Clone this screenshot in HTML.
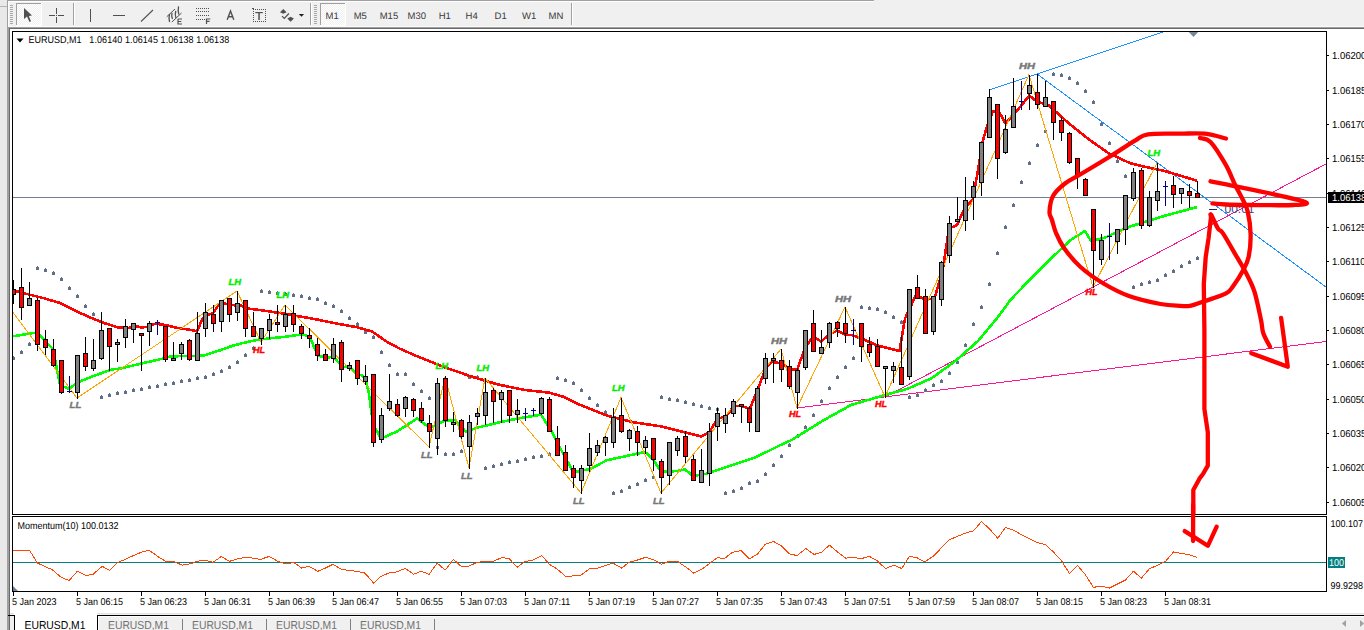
<!DOCTYPE html>
<html><head><meta charset="utf-8"><style>
html,body{margin:0;padding:0;background:#f0f0f0;overflow:hidden;}
svg{display:block;}
</style></head><body>
<svg width="1364" height="630" viewBox="0 0 1364 630" shape-rendering="auto" text-rendering="geometricPrecision">
<rect x="0" y="0" width="1364" height="630" fill="#f0f0f0"/>
<rect x="0" y="0" width="7" height="630" fill="#e9e9e9"/>
<rect x="0" y="6" width="7" height="1" fill="#b4b4b4"/>
<rect x="7" y="0" width="1" height="630" fill="#a0a0a0"/>
<rect x="8" y="0" width="866" height="1" fill="#a0a0a0"/>
<rect x="8" y="1" width="866" height="1" fill="#ffffff"/>
<rect x="8" y="1" width="1" height="26" fill="#ffffff"/>
<rect x="8" y="26" width="1356" height="1" fill="#fafafa"/>
<rect x="8" y="27" width="1356" height="1" fill="#a0a0a0"/>
<rect x="8" y="28" width="1356" height="1" fill="#696969"/>
<rect x="8" y="27" width="1" height="603" fill="#a0a0a0"/>
<rect x="9" y="28" width="1" height="602" fill="#696969"/>
<rect x="10" y="29" width="1354" height="584" fill="#ffffff"/>
<defs><pattern id="chk" x="0" y="0" width="2" height="2" patternUnits="userSpaceOnUse"><rect width="2" height="2" fill="#f0f0f0"/><rect width="1" height="1" fill="#ffffff"/><rect x="1" y="1" width="1" height="1" fill="#ffffff"/></pattern></defs>
<rect x="10" y="5" width="3" height="1" fill="#a8a8a8"/>
<rect x="10" y="7" width="3" height="1" fill="#a8a8a8"/>
<rect x="10" y="9" width="3" height="1" fill="#a8a8a8"/>
<rect x="10" y="11" width="3" height="1" fill="#a8a8a8"/>
<rect x="10" y="13" width="3" height="1" fill="#a8a8a8"/>
<rect x="10" y="15" width="3" height="1" fill="#a8a8a8"/>
<rect x="10" y="17" width="3" height="1" fill="#a8a8a8"/>
<rect x="10" y="19" width="3" height="1" fill="#a8a8a8"/>
<rect x="10" y="21" width="3" height="1" fill="#a8a8a8"/>
<rect x="10" y="23" width="3" height="1" fill="#a8a8a8"/>
<rect x="314" y="5" width="3" height="1" fill="#a8a8a8"/>
<rect x="314" y="7" width="3" height="1" fill="#a8a8a8"/>
<rect x="314" y="9" width="3" height="1" fill="#a8a8a8"/>
<rect x="314" y="11" width="3" height="1" fill="#a8a8a8"/>
<rect x="314" y="13" width="3" height="1" fill="#a8a8a8"/>
<rect x="314" y="15" width="3" height="1" fill="#a8a8a8"/>
<rect x="314" y="17" width="3" height="1" fill="#a8a8a8"/>
<rect x="314" y="19" width="3" height="1" fill="#a8a8a8"/>
<rect x="314" y="21" width="3" height="1" fill="#a8a8a8"/>
<rect x="314" y="23" width="3" height="1" fill="#a8a8a8"/>
<rect x="73" y="3" width="1" height="22" fill="#a0a0a0"/>
<rect x="74" y="3" width="1" height="22" fill="#ffffff"/>
<rect x="310" y="3" width="1" height="22" fill="#a0a0a0"/>
<rect x="311" y="3" width="1" height="22" fill="#ffffff"/>
<rect x="571" y="3" width="1" height="22" fill="#a0a0a0"/>
<rect x="572" y="3" width="1" height="22" fill="#ffffff"/>
<rect x="16" y="3" width="26" height="22" fill="url(#chk)" shape-rendering="crispEdges"/>
<rect x="16" y="3" width="26" height="1" fill="#a0a0a0"/>
<rect x="16" y="3" width="1" height="22" fill="#a0a0a0"/>
<rect x="16" y="25" width="26" height="1" fill="#ffffff"/>
<rect x="41" y="3" width="1" height="22" fill="#ffffff"/>
<rect x="320" y="3" width="26" height="22" fill="url(#chk)" shape-rendering="crispEdges"/>
<rect x="320" y="3" width="26" height="1" fill="#a0a0a0"/>
<rect x="320" y="3" width="1" height="22" fill="#a0a0a0"/>
<rect x="320" y="25" width="26" height="1" fill="#ffffff"/>
<rect x="345" y="3" width="1" height="22" fill="#ffffff"/>
<path d="M24,8 L24,19 L27,16.5 L29.5,22 L31,21.3 L28.8,16 L32,15.5 Z" fill="#505050"/>
<rect x="49" y="15" width="6" height="1" fill="#505050"/><rect x="58" y="15" width="6" height="1" fill="#505050"/>
<rect x="56" y="8" width="1" height="6" fill="#505050"/><rect x="56" y="17" width="1" height="6" fill="#505050"/>
<rect x="56" y="15" width="1" height="1" fill="#505050"/>
<rect x="90" y="9" width="1" height="13" fill="#505050"/>
<rect x="113" y="15" width="12" height="1" fill="#505050"/>
<line x1="141" y1="21.5" x2="153" y2="10" stroke="#505050" stroke-width="1.05"/>
<g stroke="#505050" stroke-width="1" fill="none" stroke-linecap="round"><line x1="167" y1="16.5" x2="174.7" y2="9.3"/><line x1="172.1" y1="21.8" x2="181.2" y2="13.3"/><path d="M169.5,14.5 Q168.5,18 169.5,21.5" stroke-width="1.3"/><path d="M172,13.3 Q171.3,16 172.3,18.5" stroke-width="1.3"/><path d="M175.7,11.3 Q174.8,14.5 175.9,17.7" stroke-width="1.3"/><path d="M178.5,6.8 Q177.8,10.5 178.8,14.1" stroke-width="1.3"/></g>
<path d="M178,19 h4 M178,19 v5 h4 M178,21.5 h3.3" stroke="#505050" stroke-width="1.2" fill="none"/>
<rect x="196" y="8.0" width="1" height="1" fill="#505050"/>
<rect x="198" y="8.0" width="1" height="1" fill="#505050"/>
<rect x="200" y="8.0" width="1" height="1" fill="#505050"/>
<rect x="202" y="8.0" width="1" height="1" fill="#505050"/>
<rect x="204" y="8.0" width="1" height="1" fill="#505050"/>
<rect x="206" y="8.0" width="1" height="1" fill="#505050"/>
<rect x="208" y="8.0" width="1" height="1" fill="#505050"/>
<rect x="196" y="11.0" width="1" height="1" fill="#505050"/>
<rect x="198" y="11.0" width="1" height="1" fill="#505050"/>
<rect x="200" y="11.0" width="1" height="1" fill="#505050"/>
<rect x="202" y="11.0" width="1" height="1" fill="#505050"/>
<rect x="204" y="11.0" width="1" height="1" fill="#505050"/>
<rect x="206" y="11.0" width="1" height="1" fill="#505050"/>
<rect x="208" y="11.0" width="1" height="1" fill="#505050"/>
<rect x="196" y="15.0" width="1" height="1" fill="#505050"/>
<rect x="198" y="15.0" width="1" height="1" fill="#505050"/>
<rect x="200" y="15.0" width="1" height="1" fill="#505050"/>
<rect x="202" y="15.0" width="1" height="1" fill="#505050"/>
<rect x="204" y="15.0" width="1" height="1" fill="#505050"/>
<rect x="206" y="15.0" width="1" height="1" fill="#505050"/>
<rect x="208" y="15.0" width="1" height="1" fill="#505050"/>
<rect x="196" y="19.0" width="1" height="1" fill="#505050"/>
<rect x="198" y="19.0" width="1" height="1" fill="#505050"/>
<rect x="200" y="19.0" width="1" height="1" fill="#505050"/>
<rect x="202" y="19.0" width="1" height="1" fill="#505050"/>
<rect x="204" y="19.0" width="1" height="1" fill="#505050"/>
<path d="M206.5,24 v-5 h3.8 M206.5,21.3 h3" stroke="#505050" stroke-width="1.2" fill="none"/>
<path d="M227.2,19.8 L230.5,11 L233.8,19.8 M228.4,16.8 L232.6,16.8" stroke="#505050" stroke-width="1.4" fill="none"/>
<rect x="253" y="9" width="1" height="1" fill="#505050"/>
<rect x="253" y="21" width="1" height="1" fill="#505050"/>
<rect x="255" y="9" width="1" height="1" fill="#505050"/>
<rect x="255" y="21" width="1" height="1" fill="#505050"/>
<rect x="257" y="9" width="1" height="1" fill="#505050"/>
<rect x="257" y="21" width="1" height="1" fill="#505050"/>
<rect x="259" y="9" width="1" height="1" fill="#505050"/>
<rect x="259" y="21" width="1" height="1" fill="#505050"/>
<rect x="261" y="9" width="1" height="1" fill="#505050"/>
<rect x="261" y="21" width="1" height="1" fill="#505050"/>
<rect x="263" y="9" width="1" height="1" fill="#505050"/>
<rect x="263" y="21" width="1" height="1" fill="#505050"/>
<rect x="265" y="9" width="1" height="1" fill="#505050"/>
<rect x="265" y="21" width="1" height="1" fill="#505050"/>
<rect x="253" y="11" width="1" height="1" fill="#505050"/>
<rect x="265" y="11" width="1" height="1" fill="#505050"/>
<rect x="253" y="13" width="1" height="1" fill="#505050"/>
<rect x="265" y="13" width="1" height="1" fill="#505050"/>
<rect x="253" y="15" width="1" height="1" fill="#505050"/>
<rect x="265" y="15" width="1" height="1" fill="#505050"/>
<rect x="253" y="17" width="1" height="1" fill="#505050"/>
<rect x="265" y="17" width="1" height="1" fill="#505050"/>
<rect x="253" y="19" width="1" height="1" fill="#505050"/>
<rect x="265" y="19" width="1" height="1" fill="#505050"/>
<rect x="252" y="8" width="2" height="1" fill="#505050"/>
<rect x="255.3" y="12" width="7.5" height="1.2" fill="#505050"/><rect x="258.3" y="12" width="1.5" height="8" fill="#505050"/>
<path d="M280,12.3 L283.3,8.9 L286.6,12.3 L283.3,13.8 Z" fill="#505050"/><path d="M287.3,18.5 L290.6,16.8 L293.9,18.5 L290.6,21.8 Z" fill="#505050"/>
<path d="M282,16.2 L284.3,18.5 L288.9,13.5" stroke="#505050" stroke-width="1.2" fill="none"/>
<path d="M298.8,13.9 L304.1,13.9 L301.5,16.8 Z" fill="#202020"/>
<text x="325.5" y="19" font-family='"Liberation Sans", sans-serif' font-size="9.5" fill="#3a3a3a">M1</text>
<text x="353.7" y="19" font-family='"Liberation Sans", sans-serif' font-size="9.5" fill="#3a3a3a">M5</text>
<text x="379.7" y="19" font-family='"Liberation Sans", sans-serif' font-size="9.5" fill="#3a3a3a">M15</text>
<text x="407.6" y="19" font-family='"Liberation Sans", sans-serif' font-size="9.5" fill="#3a3a3a">M30</text>
<text x="438.7" y="19" font-family='"Liberation Sans", sans-serif' font-size="9.5" fill="#3a3a3a">H1</text>
<text x="465.6" y="19" font-family='"Liberation Sans", sans-serif' font-size="9.5" fill="#3a3a3a">H4</text>
<text x="494.6" y="19" font-family='"Liberation Sans", sans-serif' font-size="9.5" fill="#3a3a3a">D1</text>
<text x="522.1" y="19" font-family='"Liberation Sans", sans-serif' font-size="9.5" fill="#3a3a3a">W1</text>
<text x="548.6" y="19" font-family='"Liberation Sans", sans-serif' font-size="9.5" fill="#3a3a3a">MN</text>
<rect x="12.5" y="31.5" width="1314" height="483" fill="#ffffff" stroke="#000" stroke-width="1"/>
<rect x="12.5" y="516.5" width="1314" height="75" fill="#ffffff" stroke="#000" stroke-width="1"/>
<rect x="1327" y="55" width="2" height="1" fill="#000"/>
<text transform="translate(1332,59) scale(1,1.06)" font-family='"Liberation Sans", sans-serif' font-size="9.5" fill="#000" >1.06200</text>
<rect x="1327" y="90" width="2" height="1" fill="#000"/>
<text transform="translate(1332,94) scale(1,1.06)" font-family='"Liberation Sans", sans-serif' font-size="9.5" fill="#000" >1.06185</text>
<rect x="1327" y="124" width="2" height="1" fill="#000"/>
<text transform="translate(1332,128) scale(1,1.06)" font-family='"Liberation Sans", sans-serif' font-size="9.5" fill="#000" >1.06170</text>
<rect x="1327" y="158" width="2" height="1" fill="#000"/>
<text transform="translate(1332,162) scale(1,1.06)" font-family='"Liberation Sans", sans-serif' font-size="9.5" fill="#000" >1.06155</text>
<rect x="1327" y="193" width="2" height="1" fill="#000"/>
<text transform="translate(1332,197) scale(1,1.06)" font-family='"Liberation Sans", sans-serif' font-size="9.5" fill="#000" >1.06140</text>
<rect x="1327" y="227" width="2" height="1" fill="#000"/>
<text transform="translate(1332,231) scale(1,1.06)" font-family='"Liberation Sans", sans-serif' font-size="9.5" fill="#000" >1.06125</text>
<rect x="1327" y="261" width="2" height="1" fill="#000"/>
<text transform="translate(1332,265) scale(1,1.06)" font-family='"Liberation Sans", sans-serif' font-size="9.5" fill="#000" >1.06110</text>
<rect x="1327" y="296" width="2" height="1" fill="#000"/>
<text transform="translate(1332,300) scale(1,1.06)" font-family='"Liberation Sans", sans-serif' font-size="9.5" fill="#000" >1.06095</text>
<rect x="1327" y="330" width="2" height="1" fill="#000"/>
<text transform="translate(1332,334) scale(1,1.06)" font-family='"Liberation Sans", sans-serif' font-size="9.5" fill="#000" >1.06080</text>
<rect x="1327" y="364" width="2" height="1" fill="#000"/>
<text transform="translate(1332,368) scale(1,1.06)" font-family='"Liberation Sans", sans-serif' font-size="9.5" fill="#000" >1.06065</text>
<rect x="1327" y="399" width="2" height="1" fill="#000"/>
<text transform="translate(1332,403) scale(1,1.06)" font-family='"Liberation Sans", sans-serif' font-size="9.5" fill="#000" >1.06050</text>
<rect x="1327" y="433" width="2" height="1" fill="#000"/>
<text transform="translate(1332,437) scale(1,1.06)" font-family='"Liberation Sans", sans-serif' font-size="9.5" fill="#000" >1.06035</text>
<rect x="1327" y="467" width="2" height="1" fill="#000"/>
<text transform="translate(1332,471) scale(1,1.06)" font-family='"Liberation Sans", sans-serif' font-size="9.5" fill="#000" >1.06020</text>
<rect x="1327" y="502" width="2" height="1" fill="#000"/>
<text transform="translate(1332,506) scale(1,1.06)" font-family='"Liberation Sans", sans-serif' font-size="9.5" fill="#000" >1.06005</text>
<text transform="translate(1330.5,527) scale(1,1.1)" font-family='"Liberation Sans", sans-serif' font-size="9" fill="#000" >100.107</text>
<text transform="translate(1330.5,589) scale(1,1.1)" font-family='"Liberation Sans", sans-serif' font-size="9" fill="#000" >99.9298</text>
<rect x="13" y="592" width="1" height="4" fill="#000"/>
<text transform="translate(12,605) scale(1,1.1)" font-family='"Liberation Sans", sans-serif' font-size="9" fill="#000" >5 Jan 2023</text>
<rect x="77" y="592" width="1" height="4" fill="#000"/>
<text transform="translate(76,605) scale(1,1.1)" font-family='"Liberation Sans", sans-serif' font-size="9" fill="#000" >5 Jan 06:15</text>
<rect x="141" y="592" width="1" height="4" fill="#000"/>
<text transform="translate(140,605) scale(1,1.1)" font-family='"Liberation Sans", sans-serif' font-size="9" fill="#000" >5 Jan 06:23</text>
<rect x="205" y="592" width="1" height="4" fill="#000"/>
<text transform="translate(204,605) scale(1,1.1)" font-family='"Liberation Sans", sans-serif' font-size="9" fill="#000" >5 Jan 06:31</text>
<rect x="269" y="592" width="1" height="4" fill="#000"/>
<text transform="translate(268,605) scale(1,1.1)" font-family='"Liberation Sans", sans-serif' font-size="9" fill="#000" >5 Jan 06:39</text>
<rect x="333" y="592" width="1" height="4" fill="#000"/>
<text transform="translate(332,605) scale(1,1.1)" font-family='"Liberation Sans", sans-serif' font-size="9" fill="#000" >5 Jan 06:47</text>
<rect x="397" y="592" width="1" height="4" fill="#000"/>
<text transform="translate(396,605) scale(1,1.1)" font-family='"Liberation Sans", sans-serif' font-size="9" fill="#000" >5 Jan 06:55</text>
<rect x="461" y="592" width="1" height="4" fill="#000"/>
<text transform="translate(460,605) scale(1,1.1)" font-family='"Liberation Sans", sans-serif' font-size="9" fill="#000" >5 Jan 07:03</text>
<rect x="525" y="592" width="1" height="4" fill="#000"/>
<text transform="translate(524,605) scale(1,1.1)" font-family='"Liberation Sans", sans-serif' font-size="9" fill="#000" >5 Jan 07:11</text>
<rect x="589" y="592" width="1" height="4" fill="#000"/>
<text transform="translate(588,605) scale(1,1.1)" font-family='"Liberation Sans", sans-serif' font-size="9" fill="#000" >5 Jan 07:19</text>
<rect x="653" y="592" width="1" height="4" fill="#000"/>
<text transform="translate(652,605) scale(1,1.1)" font-family='"Liberation Sans", sans-serif' font-size="9" fill="#000" >5 Jan 07:27</text>
<rect x="717" y="592" width="1" height="4" fill="#000"/>
<text transform="translate(716,605) scale(1,1.1)" font-family='"Liberation Sans", sans-serif' font-size="9" fill="#000" >5 Jan 07:35</text>
<rect x="781" y="592" width="1" height="4" fill="#000"/>
<text transform="translate(780,605) scale(1,1.1)" font-family='"Liberation Sans", sans-serif' font-size="9" fill="#000" >5 Jan 07:43</text>
<rect x="845" y="592" width="1" height="4" fill="#000"/>
<text transform="translate(844,605) scale(1,1.1)" font-family='"Liberation Sans", sans-serif' font-size="9" fill="#000" >5 Jan 07:51</text>
<rect x="909" y="592" width="1" height="4" fill="#000"/>
<text transform="translate(908,605) scale(1,1.1)" font-family='"Liberation Sans", sans-serif' font-size="9" fill="#000" >5 Jan 07:59</text>
<rect x="973" y="592" width="1" height="4" fill="#000"/>
<text transform="translate(972,605) scale(1,1.1)" font-family='"Liberation Sans", sans-serif' font-size="9" fill="#000" >5 Jan 08:07</text>
<rect x="1037" y="592" width="1" height="4" fill="#000"/>
<text transform="translate(1036,605) scale(1,1.1)" font-family='"Liberation Sans", sans-serif' font-size="9" fill="#000" >5 Jan 08:15</text>
<rect x="1101" y="592" width="1" height="4" fill="#000"/>
<text transform="translate(1100,605) scale(1,1.1)" font-family='"Liberation Sans", sans-serif' font-size="9" fill="#000" >5 Jan 08:23</text>
<rect x="1165" y="592" width="1" height="4" fill="#000"/>
<text transform="translate(1164,605) scale(1,1.1)" font-family='"Liberation Sans", sans-serif' font-size="9" fill="#000" >5 Jan 08:31</text>
<rect x="10" y="613" width="1354" height="1" fill="#e3e3e3"/>
<rect x="10" y="614" width="1354" height="16" fill="#f0f0f0"/>
<rect x="8" y="615" width="6" height="1" fill="#000"/>
<rect x="14" y="613" width="83" height="17" fill="#ffffff"/>
<rect x="14" y="615" width="1" height="15" fill="#000"/>
<rect x="97" y="615" width="1267" height="1" fill="#000"/>
<rect x="97" y="615" width="1" height="15" fill="#000"/>
<rect x="98" y="616" width="1266" height="1" fill="#ffffff"/>
<rect x="98" y="616" width="1" height="14" fill="#ffffff"/>
<rect x="182" y="619" width="1" height="11" fill="#808080"/>
<rect x="266" y="619" width="1" height="11" fill="#808080"/>
<rect x="350" y="619" width="1" height="11" fill="#808080"/>
<rect x="434" y="619" width="1" height="11" fill="#808080"/>
<text x="24.5" y="629" font-family='"Liberation Sans", sans-serif' font-size="11.5" fill="#000" textLength="61" lengthAdjust="spacingAndGlyphs">EURUSD,M1</text>
<text x="108" y="629" font-family='"Liberation Sans", sans-serif' font-size="11.5" fill="#707070" textLength="61" lengthAdjust="spacingAndGlyphs">EURUSD,M1</text>
<text x="192" y="629" font-family='"Liberation Sans", sans-serif' font-size="11.5" fill="#707070" textLength="61" lengthAdjust="spacingAndGlyphs">EURUSD,M1</text>
<text x="276" y="629" font-family='"Liberation Sans", sans-serif' font-size="11.5" fill="#707070" textLength="61" lengthAdjust="spacingAndGlyphs">EURUSD,M1</text>
<text x="360" y="629" font-family='"Liberation Sans", sans-serif' font-size="11.5" fill="#707070" textLength="61" lengthAdjust="spacingAndGlyphs">EURUSD,M1</text>
<path d="M1346,620 L1342,623.5 L1346,627 Z" fill="#a0a0a0"/>
<path d="M1360,620 L1364,623.5 L1360,627 Z" fill="#a0a0a0"/>
<defs><clipPath id="cm"><rect x="13" y="32" width="1313" height="482"/></clipPath><clipPath id="cs"><rect x="13" y="517" width="1313" height="74"/></clipPath></defs>
<g clip-path="url(#cm)">
<rect x="13" y="197" width="1313" height="1" fill="#708090"/>
<line x1="989" y1="90" x2="1037" y2="74" stroke="#1e90ff" stroke-width="1" shape-rendering="crispEdges"/>
<line x1="1037" y1="74" x2="1166" y2="31" stroke="#1e90ff" stroke-width="1" shape-rendering="crispEdges"/>
<line x1="1037" y1="74" x2="1326" y2="287" stroke="#1e90ff" stroke-width="1" shape-rendering="crispEdges"/>
<line x1="797" y1="408" x2="1326" y2="341.5" stroke="#ff1493" stroke-width="1" shape-rendering="crispEdges"/>
<line x1="885" y1="397" x2="1326" y2="164" stroke="#ff1493" stroke-width="1" shape-rendering="crispEdges"/>
<path d="M12,357h3v3h-3z M13,356h1v1h-1z" fill="#607088"/>
<path d="M20,351h3v3h-3z M21,350h1v1h-1z" fill="#607088"/>
<path d="M28,343h3v3h-3z M29,342h1v1h-1z" fill="#607088"/>
<path d="M36,267h3v3h-3z M37,266h1v1h-1z" fill="#607088"/>
<path d="M44,269h3v3h-3z M45,268h1v1h-1z" fill="#607088"/>
<path d="M52,272h3v3h-3z M53,271h1v1h-1z" fill="#607088"/>
<path d="M60,278h3v3h-3z M61,277h1v1h-1z" fill="#607088"/>
<path d="M68,287h3v3h-3z M69,286h1v1h-1z" fill="#607088"/>
<path d="M76,295h3v3h-3z M77,294h1v1h-1z" fill="#607088"/>
<path d="M84,305h3v3h-3z M85,304h1v1h-1z" fill="#607088"/>
<path d="M92,313h3v3h-3z M93,312h1v1h-1z" fill="#607088"/>
<path d="M100,396h3v3h-3z M101,395h1v1h-1z" fill="#607088"/>
<path d="M108,394h3v3h-3z M109,393h1v1h-1z" fill="#607088"/>
<path d="M116,392h3v3h-3z M117,391h1v1h-1z" fill="#607088"/>
<path d="M124,391h3v3h-3z M125,390h1v1h-1z" fill="#607088"/>
<path d="M132,389h3v3h-3z M133,388h1v1h-1z" fill="#607088"/>
<path d="M140,388h3v3h-3z M141,387h1v1h-1z" fill="#607088"/>
<path d="M148,386h3v3h-3z M149,385h1v1h-1z" fill="#607088"/>
<path d="M156,385h3v3h-3z M157,384h1v1h-1z" fill="#607088"/>
<path d="M164,383h3v3h-3z M165,382h1v1h-1z" fill="#607088"/>
<path d="M172,382h3v3h-3z M173,381h1v1h-1z" fill="#607088"/>
<path d="M180,380h3v3h-3z M181,379h1v1h-1z" fill="#607088"/>
<path d="M188,379h3v3h-3z M189,378h1v1h-1z" fill="#607088"/>
<path d="M196,377h3v3h-3z M197,376h1v1h-1z" fill="#607088"/>
<path d="M204,376h3v3h-3z M205,375h1v1h-1z" fill="#607088"/>
<path d="M212,373h3v3h-3z M213,372h1v1h-1z" fill="#607088"/>
<path d="M220,370h3v3h-3z M221,369h1v1h-1z" fill="#607088"/>
<path d="M228,366h3v3h-3z M229,365h1v1h-1z" fill="#607088"/>
<path d="M236,361h3v3h-3z M237,360h1v1h-1z" fill="#607088"/>
<path d="M244,354h3v3h-3z M245,353h1v1h-1z" fill="#607088"/>
<path d="M252,347h3v3h-3z M253,346h1v1h-1z" fill="#607088"/>
<path d="M260,290h3v3h-3z M261,289h1v1h-1z" fill="#607088"/>
<path d="M268,291h3v3h-3z M269,290h1v1h-1z" fill="#607088"/>
<path d="M276,292h3v3h-3z M277,291h1v1h-1z" fill="#607088"/>
<path d="M284,293h3v3h-3z M285,292h1v1h-1z" fill="#607088"/>
<path d="M292,294h3v3h-3z M293,293h1v1h-1z" fill="#607088"/>
<path d="M300,295h3v3h-3z M301,294h1v1h-1z" fill="#607088"/>
<path d="M308,297h3v3h-3z M309,296h1v1h-1z" fill="#607088"/>
<path d="M316,298h3v3h-3z M317,297h1v1h-1z" fill="#607088"/>
<path d="M324,302h3v3h-3z M325,301h1v1h-1z" fill="#607088"/>
<path d="M332,305h3v3h-3z M333,304h1v1h-1z" fill="#607088"/>
<path d="M340,310h3v3h-3z M341,309h1v1h-1z" fill="#607088"/>
<path d="M348,317h3v3h-3z M349,316h1v1h-1z" fill="#607088"/>
<path d="M356,323h3v3h-3z M357,322h1v1h-1z" fill="#607088"/>
<path d="M364,331h3v3h-3z M365,330h1v1h-1z" fill="#607088"/>
<path d="M372,336h3v3h-3z M373,335h1v1h-1z" fill="#607088"/>
<path d="M380,351h3v3h-3z M381,350h1v1h-1z" fill="#607088"/>
<path d="M388,364h3v3h-3z M389,363h1v1h-1z" fill="#607088"/>
<path d="M396,373h3v3h-3z M397,372h1v1h-1z" fill="#607088"/>
<path d="M404,373h3v3h-3z M405,372h1v1h-1z" fill="#607088"/>
<path d="M412,383h3v3h-3z M413,382h1v1h-1z" fill="#607088"/>
<path d="M420,390h3v3h-3z M421,389h1v1h-1z" fill="#607088"/>
<path d="M428,397h3v3h-3z M429,396h1v1h-1z" fill="#607088"/>
<path d="M436,446h3v3h-3z M437,445h1v1h-1z" fill="#607088"/>
<path d="M444,453h3v3h-3z M445,452h1v1h-1z" fill="#607088"/>
<path d="M452,453h3v3h-3z M453,452h1v1h-1z" fill="#607088"/>
<path d="M460,450h3v3h-3z M461,449h1v1h-1z" fill="#607088"/>
<path d="M468,376h3v3h-3z M469,375h1v1h-1z" fill="#607088"/>
<path d="M476,376h3v3h-3z M477,375h1v1h-1z" fill="#607088"/>
<path d="M484,467h3v3h-3z M485,466h1v1h-1z" fill="#607088"/>
<path d="M492,465h3v3h-3z M493,464h1v1h-1z" fill="#607088"/>
<path d="M500,463h3v3h-3z M501,462h1v1h-1z" fill="#607088"/>
<path d="M508,461h3v3h-3z M509,460h1v1h-1z" fill="#607088"/>
<path d="M516,460h3v3h-3z M517,459h1v1h-1z" fill="#607088"/>
<path d="M524,458h3v3h-3z M525,457h1v1h-1z" fill="#607088"/>
<path d="M532,456h3v3h-3z M533,455h1v1h-1z" fill="#607088"/>
<path d="M540,455h3v3h-3z M541,454h1v1h-1z" fill="#607088"/>
<path d="M548,453h3v3h-3z M549,452h1v1h-1z" fill="#607088"/>
<path d="M556,377h3v3h-3z M557,376h1v1h-1z" fill="#607088"/>
<path d="M564,379h3v3h-3z M565,378h1v1h-1z" fill="#607088"/>
<path d="M572,382h3v3h-3z M573,381h1v1h-1z" fill="#607088"/>
<path d="M580,389h3v3h-3z M581,388h1v1h-1z" fill="#607088"/>
<path d="M588,397h3v3h-3z M589,396h1v1h-1z" fill="#607088"/>
<path d="M596,404h3v3h-3z M597,403h1v1h-1z" fill="#607088"/>
<path d="M604,411h3v3h-3z M605,410h1v1h-1z" fill="#607088"/>
<path d="M612,492h3v3h-3z M613,491h1v1h-1z" fill="#607088"/>
<path d="M620,490h3v3h-3z M621,489h1v1h-1z" fill="#607088"/>
<path d="M628,486h3v3h-3z M629,485h1v1h-1z" fill="#607088"/>
<path d="M636,483h3v3h-3z M637,482h1v1h-1z" fill="#607088"/>
<path d="M644,479h3v3h-3z M645,478h1v1h-1z" fill="#607088"/>
<path d="M652,476h3v3h-3z M653,475h1v1h-1z" fill="#607088"/>
<path d="M660,396h3v3h-3z M661,395h1v1h-1z" fill="#607088"/>
<path d="M668,398h3v3h-3z M669,397h1v1h-1z" fill="#607088"/>
<path d="M676,399h3v3h-3z M677,398h1v1h-1z" fill="#607088"/>
<path d="M684,401h3v3h-3z M685,400h1v1h-1z" fill="#607088"/>
<path d="M692,403h3v3h-3z M693,402h1v1h-1z" fill="#607088"/>
<path d="M700,405h3v3h-3z M701,404h1v1h-1z" fill="#607088"/>
<path d="M708,407h3v3h-3z M709,406h1v1h-1z" fill="#607088"/>
<path d="M716,408h3v3h-3z M717,407h1v1h-1z" fill="#607088"/>
<path d="M724,492h3v3h-3z M725,491h1v1h-1z" fill="#607088"/>
<path d="M732,490h3v3h-3z M733,489h1v1h-1z" fill="#607088"/>
<path d="M740,487h3v3h-3z M741,486h1v1h-1z" fill="#607088"/>
<path d="M748,482h3v3h-3z M749,481h1v1h-1z" fill="#607088"/>
<path d="M756,480h3v3h-3z M757,479h1v1h-1z" fill="#607088"/>
<path d="M764,473h3v3h-3z M765,472h1v1h-1z" fill="#607088"/>
<path d="M772,464h3v3h-3z M773,463h1v1h-1z" fill="#607088"/>
<path d="M780,455h3v3h-3z M781,454h1v1h-1z" fill="#607088"/>
<path d="M788,444h3v3h-3z M789,443h1v1h-1z" fill="#607088"/>
<path d="M796,435h3v3h-3z M797,434h1v1h-1z" fill="#607088"/>
<path d="M804,426h3v3h-3z M805,425h1v1h-1z" fill="#607088"/>
<path d="M812,414h3v3h-3z M813,413h1v1h-1z" fill="#607088"/>
<path d="M820,400h3v3h-3z M821,399h1v1h-1z" fill="#607088"/>
<path d="M828,387h3v3h-3z M829,386h1v1h-1z" fill="#607088"/>
<path d="M836,376h3v3h-3z M837,375h1v1h-1z" fill="#607088"/>
<path d="M844,366h3v3h-3z M845,365h1v1h-1z" fill="#607088"/>
<path d="M852,357h3v3h-3z M853,356h1v1h-1z" fill="#607088"/>
<path d="M860,306h3v3h-3z M861,305h1v1h-1z" fill="#607088"/>
<path d="M868,307h3v3h-3z M869,306h1v1h-1z" fill="#607088"/>
<path d="M876,308h3v3h-3z M877,307h1v1h-1z" fill="#607088"/>
<path d="M884,311h3v3h-3z M885,310h1v1h-1z" fill="#607088"/>
<path d="M892,316h3v3h-3z M893,315h1v1h-1z" fill="#607088"/>
<path d="M900,321h3v3h-3z M901,320h1v1h-1z" fill="#607088"/>
<path d="M908,396h3v3h-3z M909,395h1v1h-1z" fill="#607088"/>
<path d="M916,394h3v3h-3z M917,393h1v1h-1z" fill="#607088"/>
<path d="M924,389h3v3h-3z M925,388h1v1h-1z" fill="#607088"/>
<path d="M932,384h3v3h-3z M933,383h1v1h-1z" fill="#607088"/>
<path d="M940,380h3v3h-3z M941,379h1v1h-1z" fill="#607088"/>
<path d="M948,372h3v3h-3z M949,371h1v1h-1z" fill="#607088"/>
<path d="M956,361h3v3h-3z M957,360h1v1h-1z" fill="#607088"/>
<path d="M964,344h3v3h-3z M965,343h1v1h-1z" fill="#607088"/>
<path d="M972,323h3v3h-3z M973,322h1v1h-1z" fill="#607088"/>
<path d="M980,306h3v3h-3z M981,305h1v1h-1z" fill="#607088"/>
<path d="M988,283h3v3h-3z M989,282h1v1h-1z" fill="#607088"/>
<path d="M996,252h3v3h-3z M997,251h1v1h-1z" fill="#607088"/>
<path d="M1004,226h3v3h-3z M1005,225h1v1h-1z" fill="#607088"/>
<path d="M1012,204h3v3h-3z M1013,203h1v1h-1z" fill="#607088"/>
<path d="M1020,181h3v3h-3z M1021,180h1v1h-1z" fill="#607088"/>
<path d="M1028,162h3v3h-3z M1029,161h1v1h-1z" fill="#607088"/>
<path d="M1036,144h3v3h-3z M1037,143h1v1h-1z" fill="#607088"/>
<path d="M1044,130h3v3h-3z M1045,129h1v1h-1z" fill="#607088"/>
<path d="M1052,73h3v3h-3z M1053,72h1v1h-1z" fill="#607088"/>
<path d="M1060,74h3v3h-3z M1061,73h1v1h-1z" fill="#607088"/>
<path d="M1068,77h3v3h-3z M1069,76h1v1h-1z" fill="#607088"/>
<path d="M1076,82h3v3h-3z M1077,81h1v1h-1z" fill="#607088"/>
<path d="M1084,90h3v3h-3z M1085,89h1v1h-1z" fill="#607088"/>
<path d="M1092,101h3v3h-3z M1093,100h1v1h-1z" fill="#607088"/>
<path d="M1100,123h3v3h-3z M1101,122h1v1h-1z" fill="#607088"/>
<path d="M1108,142h3v3h-3z M1109,141h1v1h-1z" fill="#607088"/>
<path d="M1116,160h3v3h-3z M1117,159h1v1h-1z" fill="#607088"/>
<path d="M1124,175h3v3h-3z M1125,174h1v1h-1z" fill="#607088"/>
<path d="M1132,286h3v3h-3z M1133,285h1v1h-1z" fill="#607088"/>
<path d="M1140,283h3v3h-3z M1141,282h1v1h-1z" fill="#607088"/>
<path d="M1148,281h3v3h-3z M1149,280h1v1h-1z" fill="#607088"/>
<path d="M1156,279h3v3h-3z M1157,278h1v1h-1z" fill="#607088"/>
<path d="M1164,274h3v3h-3z M1165,273h1v1h-1z" fill="#607088"/>
<path d="M1172,270h3v3h-3z M1173,269h1v1h-1z" fill="#607088"/>
<path d="M1180,265h3v3h-3z M1181,264h1v1h-1z" fill="#607088"/>
<path d="M1188,261h3v3h-3z M1189,260h1v1h-1z" fill="#607088"/>
<path d="M1196,257h3v3h-3z M1197,256h1v1h-1z" fill="#607088"/>
<polyline points="12.0,290.0 27.0,294.0 43.0,298.0 60.0,303.0 77.5,311.8 95.0,319.5 104.0,323.0 117.6,327.3 128.6,327.9 134.3,325.7 141.4,327.4 147.0,326.9 154.3,324.0 161.4,324.3 167.0,325.4 177.0,327.9 191.4,330.0 197.0,331.4 203.0,317.8 209.0,314.4 213.0,313.3 219.0,304.4 224.0,303.3 230.0,305.0 241.0,305.6 249.0,308.7 260.0,310.0 285.0,313.8 317.0,319.5 338.0,323.8 356.0,327.0 372.0,331.4 380.0,337.0 388.0,342.5 400.0,348.8 417.0,356.2 444.0,367.0 471.0,376.4 498.0,384.5 525.0,390.0 549.0,392.6 563.0,396.7 580.0,404.8 607.0,415.6 634.0,422.3 661.0,426.4 688.0,433.1 701.5,436.6 709.6,431.8 717.7,418.3 725.7,417.0 733.8,406.1 742.0,406.1 750.0,408.8 758.0,388.6 766.2,367.0 771.6,361.6 781.0,363.5 789.0,368.6 797.0,370.0 805.0,348.3 813.0,336.2 821.0,341.5 829.0,334.8 837.0,330.7 845.6,334.8 851.0,334.8 862.0,338.8 878.0,345.6 899.5,351.0 905.0,318.6 915.7,295.6 926.5,299.7 934.6,298.3 942.7,270.0 949.0,228.6 957.0,225.0 965.0,207.6 972.6,200.0 977.7,172.0 982.7,141.5 987.8,123.8 993.0,111.0 1000.0,113.6 1005.4,123.4 1021.3,105.6 1029.2,95.6 1037.1,101.6 1049.0,105.6 1068.9,123.4 1088.7,139.3 1108.6,153.2 1130.0,163.1 1140.0,165.7 1165.0,171.1 1197.0,180.7" fill="none" stroke="#ff0000" stroke-width="2.6" stroke-linejoin="round" shape-rendering="crispEdges"/>
<polyline points="12.0,336.4 29.0,333.7 37.0,332.5 53.0,349.0 60.0,385.0 69.0,389.0 77.5,382.5 95.0,375.5 112.0,369.4 120.0,368.6 141.0,363.6 163.0,358.6 170.0,356.4 200.0,355.7 205.0,355.2 221.0,350.0 233.0,345.6 245.0,342.5 260.0,339.4 285.0,336.8 301.0,334.5 305.0,335.0 310.0,337.8 314.0,346.7 318.0,355.6 323.0,356.8 329.0,357.5 333.0,356.2 338.0,362.0 344.0,367.0 349.5,366.3 356.0,374.0 362.0,375.2 366.0,380.3 369.0,394.0 373.0,424.0 381.0,438.6 397.0,431.5 417.0,418.5 430.0,428.0 444.0,421.0 455.0,420.0 466.0,432.0 476.0,428.0 498.0,422.6 517.0,418.7 541.0,414.6 552.0,431.8 563.0,453.4 573.5,472.2 590.0,469.0 607.0,460.2 645.0,452.0 653.0,459.0 661.0,472.0 677.0,471.0 685.0,469.5 693.0,476.0 707.0,473.6 731.0,465.5 755.5,457.4 780.0,445.3 791.6,440.0 824.0,420.0 851.0,405.0 883.4,395.5 907.6,388.8 932.0,378.0 956.2,360.4 978.0,341.0 997.0,318.3 1011.0,299.3 1035.0,274.3 1057.0,252.9 1071.0,239.8 1085.0,231.0 1091.0,241.0 1105.0,237.7 1118.0,231.4 1131.0,226.3 1143.0,222.5 1165.0,215.7 1197.0,207.1" fill="none" stroke="#00ff00" stroke-width="2.6" stroke-linejoin="round" shape-rendering="crispEdges"/>
<polyline points="12.0,311.0 77.0,398.0 237.0,291.0 261.0,342.0 285.0,305.0 368.0,387.0 429.0,447.0 445.0,377.0 469.0,468.0 485.0,378.0 581.0,493.0 621.0,397.5 661.0,493.0 781.0,349.0 797.0,408.0 845.0,307.0 885.0,397.0 1029.0,74.6 1093.0,287.0 1157.0,163.0" fill="none" stroke="#ffa500" stroke-width="1" shape-rendering="crispEdges"/>
<rect x="13" y="280" width="1" height="24" fill="#000"/>
<rect x="11.5" y="289.5" width="4" height="5" fill="#ff0000" stroke="#000" stroke-width="1"/>
<rect x="21" y="268" width="1" height="52" fill="#000"/>
<rect x="19.5" y="287.5" width="4" height="20" fill="#ff0000" stroke="#000" stroke-width="1"/>
<rect x="29" y="282" width="1" height="24" fill="#000"/>
<rect x="27.5" y="298.5" width="4" height="7" fill="#808080" stroke="#000" stroke-width="1"/>
<rect x="37" y="298" width="1" height="53" fill="#000"/>
<rect x="35.5" y="300.5" width="4" height="44" fill="#ff0000" stroke="#000" stroke-width="1"/>
<rect x="45" y="330" width="1" height="25" fill="#000"/>
<rect x="43.5" y="339.5" width="4" height="8" fill="#ff0000" stroke="#000" stroke-width="1"/>
<rect x="53" y="339" width="1" height="28" fill="#000"/>
<rect x="51.5" y="349.5" width="4" height="16" fill="#ff0000" stroke="#000" stroke-width="1"/>
<rect x="61" y="360" width="1" height="34" fill="#000"/>
<rect x="59.5" y="360.5" width="4" height="32" fill="#ff0000" stroke="#000" stroke-width="1"/>
<rect x="69" y="376" width="1" height="17" fill="#000080"/>
<rect x="67" y="391" width="5" height="1" fill="#000080"/>
<rect x="77" y="355" width="1" height="44" fill="#000"/>
<rect x="75.5" y="355.5" width="4" height="37" fill="#808080" stroke="#000" stroke-width="1"/>
<rect x="85" y="337" width="1" height="34" fill="#000"/>
<rect x="83.5" y="353.5" width="4" height="13" fill="#ff0000" stroke="#000" stroke-width="1"/>
<rect x="93" y="339" width="1" height="32" fill="#000"/>
<rect x="91.5" y="360.5" width="4" height="8" fill="#808080" stroke="#000" stroke-width="1"/>
<rect x="101" y="312" width="1" height="48" fill="#000"/>
<rect x="99.5" y="330.5" width="4" height="28" fill="#808080" stroke="#000" stroke-width="1"/>
<rect x="109" y="328" width="1" height="43" fill="#000"/>
<rect x="107.5" y="328.5" width="4" height="18" fill="#ff0000" stroke="#000" stroke-width="1"/>
<rect x="117" y="339" width="1" height="23" fill="#000"/>
<rect x="115.5" y="342.5" width="4" height="2" fill="#808080" stroke="#000" stroke-width="1"/>
<rect x="125" y="319" width="1" height="29" fill="#000"/>
<rect x="123.5" y="326.5" width="4" height="11" fill="#808080" stroke="#000" stroke-width="1"/>
<rect x="133" y="323" width="1" height="20" fill="#000"/>
<rect x="131.5" y="323.5" width="4" height="6" fill="#808080" stroke="#000" stroke-width="1"/>
<rect x="141" y="333" width="1" height="38" fill="#000"/>
<rect x="139.5" y="333.5" width="4" height="2" fill="#ff0000" stroke="#000" stroke-width="1"/>
<rect x="149" y="321" width="1" height="25" fill="#000"/>
<rect x="147.5" y="323.5" width="4" height="8" fill="#808080" stroke="#000" stroke-width="1"/>
<rect x="157" y="320" width="1" height="15" fill="#000080"/>
<rect x="155" y="322" width="5" height="1" fill="#000080"/>
<rect x="165" y="326" width="1" height="36" fill="#000"/>
<rect x="163.5" y="326.5" width="4" height="33" fill="#ff0000" stroke="#000" stroke-width="1"/>
<rect x="173" y="342" width="1" height="19" fill="#000"/>
<rect x="171.5" y="358.5" width="4" height="2" fill="#808080" stroke="#000" stroke-width="1"/>
<rect x="181" y="342" width="1" height="18" fill="#000"/>
<rect x="179.5" y="344.5" width="4" height="9" fill="#808080" stroke="#000" stroke-width="1"/>
<rect x="189" y="339" width="1" height="22" fill="#000"/>
<rect x="187.5" y="340.5" width="4" height="19" fill="#ff0000" stroke="#000" stroke-width="1"/>
<rect x="197" y="312" width="1" height="49" fill="#000"/>
<rect x="195.5" y="333.5" width="4" height="27" fill="#808080" stroke="#000" stroke-width="1"/>
<rect x="205" y="303" width="1" height="34" fill="#000"/>
<rect x="203.5" y="312.5" width="4" height="16" fill="#808080" stroke="#000" stroke-width="1"/>
<rect x="213" y="305" width="1" height="27" fill="#000"/>
<rect x="211.5" y="314.5" width="4" height="9" fill="#ff0000" stroke="#000" stroke-width="1"/>
<rect x="221" y="300" width="1" height="32" fill="#000"/>
<rect x="219.5" y="300.5" width="4" height="21" fill="#808080" stroke="#000" stroke-width="1"/>
<rect x="229" y="298" width="1" height="24" fill="#000"/>
<rect x="227.5" y="298.5" width="4" height="16" fill="#ff0000" stroke="#000" stroke-width="1"/>
<rect x="237" y="291" width="1" height="30" fill="#000"/>
<rect x="235.5" y="303.5" width="4" height="9" fill="#808080" stroke="#000" stroke-width="1"/>
<rect x="245" y="300" width="1" height="37" fill="#000"/>
<rect x="243.5" y="300.5" width="4" height="28" fill="#ff0000" stroke="#000" stroke-width="1"/>
<rect x="253" y="312" width="1" height="25" fill="#000"/>
<rect x="251.5" y="326.5" width="4" height="10" fill="#ff0000" stroke="#000" stroke-width="1"/>
<rect x="261" y="328" width="1" height="17" fill="#000"/>
<rect x="259.5" y="328.5" width="4" height="10" fill="#808080" stroke="#000" stroke-width="1"/>
<rect x="269" y="314" width="1" height="25" fill="#000"/>
<rect x="267.5" y="319.5" width="4" height="11" fill="#808080" stroke="#000" stroke-width="1"/>
<rect x="277" y="305" width="1" height="27" fill="#000"/>
<rect x="275.5" y="322.5" width="4" height="2" fill="#ff0000" stroke="#000" stroke-width="1"/>
<rect x="285" y="305" width="1" height="27" fill="#000"/>
<rect x="283.5" y="314.5" width="4" height="12" fill="#808080" stroke="#000" stroke-width="1"/>
<rect x="293" y="305" width="1" height="27" fill="#000"/>
<rect x="291.5" y="313.5" width="4" height="11" fill="#ff0000" stroke="#000" stroke-width="1"/>
<rect x="301" y="324" width="1" height="15" fill="#000"/>
<rect x="299.5" y="326.5" width="4" height="7" fill="#ff0000" stroke="#000" stroke-width="1"/>
<rect x="309" y="328" width="1" height="20" fill="#000"/>
<rect x="307.5" y="335.5" width="4" height="3" fill="#ff0000" stroke="#000" stroke-width="1"/>
<rect x="317" y="338" width="1" height="23" fill="#000"/>
<rect x="315.5" y="344.5" width="4" height="11" fill="#ff0000" stroke="#000" stroke-width="1"/>
<rect x="325" y="349" width="1" height="12" fill="#000"/>
<rect x="323.5" y="354.5" width="4" height="6" fill="#ff0000" stroke="#000" stroke-width="1"/>
<rect x="333" y="338" width="1" height="25" fill="#000"/>
<rect x="331.5" y="344.5" width="4" height="14" fill="#808080" stroke="#000" stroke-width="1"/>
<rect x="341" y="340" width="1" height="42" fill="#000"/>
<rect x="339.5" y="342.5" width="4" height="27" fill="#ff0000" stroke="#000" stroke-width="1"/>
<rect x="349" y="362" width="1" height="9" fill="#000"/>
<rect x="347.5" y="365.5" width="4" height="3" fill="#808080" stroke="#000" stroke-width="1"/>
<rect x="357" y="360" width="1" height="25" fill="#000"/>
<rect x="355.5" y="360.5" width="4" height="18" fill="#ff0000" stroke="#000" stroke-width="1"/>
<rect x="365" y="365" width="1" height="20" fill="#000"/>
<rect x="363.5" y="376.5" width="4" height="5" fill="#808080" stroke="#000" stroke-width="1"/>
<rect x="373" y="374" width="1" height="73" fill="#000"/>
<rect x="371.5" y="374.5" width="4" height="68" fill="#ff0000" stroke="#000" stroke-width="1"/>
<rect x="381" y="408" width="1" height="35" fill="#000"/>
<rect x="379.5" y="415.5" width="4" height="24" fill="#808080" stroke="#000" stroke-width="1"/>
<rect x="389" y="374" width="1" height="37" fill="#000"/>
<rect x="387.5" y="401.5" width="4" height="7" fill="#808080" stroke="#000" stroke-width="1"/>
<rect x="397" y="399" width="1" height="18" fill="#000"/>
<rect x="395.5" y="404.5" width="4" height="11" fill="#ff0000" stroke="#000" stroke-width="1"/>
<rect x="405" y="396" width="1" height="21" fill="#000"/>
<rect x="403.5" y="397.5" width="4" height="11" fill="#808080" stroke="#000" stroke-width="1"/>
<rect x="413" y="398" width="1" height="19" fill="#000"/>
<rect x="411.5" y="399.5" width="4" height="11" fill="#ff0000" stroke="#000" stroke-width="1"/>
<rect x="421" y="402" width="1" height="21" fill="#000"/>
<rect x="419.5" y="408.5" width="4" height="12" fill="#ff0000" stroke="#000" stroke-width="1"/>
<rect x="429" y="415" width="1" height="33" fill="#000"/>
<rect x="427.5" y="423.5" width="4" height="8" fill="#ff0000" stroke="#000" stroke-width="1"/>
<rect x="437" y="378" width="1" height="77" fill="#000"/>
<rect x="435.5" y="383.5" width="4" height="55" fill="#808080" stroke="#000" stroke-width="1"/>
<rect x="445" y="376" width="1" height="51" fill="#000"/>
<rect x="443.5" y="378.5" width="4" height="42" fill="#ff0000" stroke="#000" stroke-width="1"/>
<rect x="453" y="412" width="1" height="20" fill="#000"/>
<rect x="451.5" y="422.5" width="4" height="2" fill="#808080" stroke="#000" stroke-width="1"/>
<rect x="461" y="419" width="1" height="20" fill="#000"/>
<rect x="459.5" y="420.5" width="4" height="16" fill="#ff0000" stroke="#000" stroke-width="1"/>
<rect x="469" y="415" width="1" height="54" fill="#000"/>
<rect x="467.5" y="422.5" width="4" height="24" fill="#808080" stroke="#000" stroke-width="1"/>
<rect x="477" y="408" width="1" height="17" fill="#000"/>
<rect x="475.5" y="413.5" width="4" height="3" fill="#808080" stroke="#000" stroke-width="1"/>
<rect x="485" y="378" width="1" height="47" fill="#000"/>
<rect x="483.5" y="392.5" width="4" height="23" fill="#808080" stroke="#000" stroke-width="1"/>
<rect x="493" y="388" width="1" height="35" fill="#000"/>
<rect x="491.5" y="390.5" width="4" height="11" fill="#ff0000" stroke="#000" stroke-width="1"/>
<rect x="501" y="390" width="1" height="33" fill="#000"/>
<rect x="499.5" y="392.5" width="4" height="7" fill="#808080" stroke="#000" stroke-width="1"/>
<rect x="509" y="390" width="1" height="33" fill="#000"/>
<rect x="507.5" y="390.5" width="4" height="25" fill="#ff0000" stroke="#000" stroke-width="1"/>
<rect x="517" y="399" width="1" height="24" fill="#000"/>
<rect x="515.5" y="410.5" width="4" height="4" fill="#808080" stroke="#000" stroke-width="1"/>
<rect x="525" y="408" width="1" height="13" fill="#000080"/>
<rect x="523" y="413" width="5" height="1" fill="#000080"/>
<rect x="533" y="408" width="1" height="8" fill="#000080"/>
<rect x="531" y="410" width="5" height="1" fill="#000080"/>
<rect x="541" y="397" width="1" height="18" fill="#000"/>
<rect x="539.5" y="398.5" width="4" height="15" fill="#808080" stroke="#000" stroke-width="1"/>
<rect x="549" y="397" width="1" height="35" fill="#000"/>
<rect x="547.5" y="399.5" width="4" height="32" fill="#ff0000" stroke="#000" stroke-width="1"/>
<rect x="557" y="426" width="1" height="30" fill="#000"/>
<rect x="555.5" y="438.5" width="4" height="17" fill="#ff0000" stroke="#000" stroke-width="1"/>
<rect x="565" y="445" width="1" height="26" fill="#000"/>
<rect x="563.5" y="452.5" width="4" height="18" fill="#ff0000" stroke="#000" stroke-width="1"/>
<rect x="573" y="465" width="1" height="23" fill="#000"/>
<rect x="571.5" y="468.5" width="4" height="9" fill="#ff0000" stroke="#000" stroke-width="1"/>
<rect x="581" y="465" width="1" height="29" fill="#000"/>
<rect x="579.5" y="468.5" width="4" height="12" fill="#808080" stroke="#000" stroke-width="1"/>
<rect x="589" y="433" width="1" height="39" fill="#000"/>
<rect x="587.5" y="448.5" width="4" height="17" fill="#808080" stroke="#000" stroke-width="1"/>
<rect x="597" y="440" width="1" height="16" fill="#000"/>
<rect x="595.5" y="445.5" width="4" height="7" fill="#808080" stroke="#000" stroke-width="1"/>
<rect x="605" y="436" width="1" height="20" fill="#000"/>
<rect x="603.5" y="437.5" width="4" height="5" fill="#808080" stroke="#000" stroke-width="1"/>
<rect x="613" y="408" width="1" height="40" fill="#000"/>
<rect x="611.5" y="417.5" width="4" height="25" fill="#808080" stroke="#000" stroke-width="1"/>
<rect x="621" y="398" width="1" height="35" fill="#000"/>
<rect x="619.5" y="415.5" width="4" height="16" fill="#ff0000" stroke="#000" stroke-width="1"/>
<rect x="629" y="429" width="1" height="22" fill="#000"/>
<rect x="627.5" y="430.5" width="4" height="8" fill="#808080" stroke="#000" stroke-width="1"/>
<rect x="637" y="426" width="1" height="30" fill="#000"/>
<rect x="635.5" y="431.5" width="4" height="11" fill="#ff0000" stroke="#000" stroke-width="1"/>
<rect x="645" y="436" width="1" height="18" fill="#000"/>
<rect x="643.5" y="440.5" width="4" height="7" fill="#808080" stroke="#000" stroke-width="1"/>
<rect x="653" y="438" width="1" height="33" fill="#000"/>
<rect x="651.5" y="438.5" width="4" height="21" fill="#ff0000" stroke="#000" stroke-width="1"/>
<rect x="661" y="459" width="1" height="35" fill="#000"/>
<rect x="659.5" y="461.5" width="4" height="16" fill="#ff0000" stroke="#000" stroke-width="1"/>
<rect x="669" y="442" width="1" height="43" fill="#000"/>
<rect x="667.5" y="442.5" width="4" height="33" fill="#808080" stroke="#000" stroke-width="1"/>
<rect x="677" y="436" width="1" height="20" fill="#000"/>
<rect x="675.5" y="438.5" width="4" height="12" fill="#808080" stroke="#000" stroke-width="1"/>
<rect x="685" y="431" width="1" height="32" fill="#000"/>
<rect x="683.5" y="436.5" width="4" height="20" fill="#ff0000" stroke="#000" stroke-width="1"/>
<rect x="693" y="455" width="1" height="26" fill="#000"/>
<rect x="691.5" y="459.5" width="4" height="21" fill="#ff0000" stroke="#000" stroke-width="1"/>
<rect x="701" y="449" width="1" height="34" fill="#000"/>
<rect x="699.5" y="470.5" width="4" height="12" fill="#808080" stroke="#000" stroke-width="1"/>
<rect x="709" y="423" width="1" height="63" fill="#000"/>
<rect x="707.5" y="431.5" width="4" height="42" fill="#808080" stroke="#000" stroke-width="1"/>
<rect x="717" y="408" width="1" height="33" fill="#000"/>
<rect x="715.5" y="413.5" width="4" height="13" fill="#808080" stroke="#000" stroke-width="1"/>
<rect x="725" y="408" width="1" height="25" fill="#000"/>
<rect x="723.5" y="415.5" width="4" height="8" fill="#808080" stroke="#000" stroke-width="1"/>
<rect x="733" y="399" width="1" height="18" fill="#000"/>
<rect x="731.5" y="401.5" width="4" height="12" fill="#808080" stroke="#000" stroke-width="1"/>
<rect x="741" y="404" width="1" height="19" fill="#000"/>
<rect x="739.5" y="404.5" width="4" height="2" fill="#ff0000" stroke="#000" stroke-width="1"/>
<rect x="749" y="406" width="1" height="26" fill="#000"/>
<rect x="747.5" y="408.5" width="4" height="14" fill="#ff0000" stroke="#000" stroke-width="1"/>
<rect x="757" y="386" width="1" height="46" fill="#000"/>
<rect x="755.5" y="388.5" width="4" height="43" fill="#808080" stroke="#000" stroke-width="1"/>
<rect x="765" y="353" width="1" height="31" fill="#000"/>
<rect x="763.5" y="358.5" width="4" height="20" fill="#808080" stroke="#000" stroke-width="1"/>
<rect x="773" y="353" width="1" height="30" fill="#000"/>
<rect x="771.5" y="358.5" width="4" height="2" fill="#808080" stroke="#000" stroke-width="1"/>
<rect x="781" y="349" width="1" height="33" fill="#000"/>
<rect x="779.5" y="360.5" width="4" height="9" fill="#ff0000" stroke="#000" stroke-width="1"/>
<rect x="789" y="360" width="1" height="29" fill="#000"/>
<rect x="787.5" y="366.5" width="4" height="20" fill="#ff0000" stroke="#000" stroke-width="1"/>
<rect x="797" y="368" width="1" height="41" fill="#000"/>
<rect x="795.5" y="370.5" width="4" height="22" fill="#808080" stroke="#000" stroke-width="1"/>
<rect x="805" y="330" width="1" height="40" fill="#000"/>
<rect x="803.5" y="330.5" width="4" height="37" fill="#808080" stroke="#000" stroke-width="1"/>
<rect x="813" y="310" width="1" height="42" fill="#000"/>
<rect x="811.5" y="323.5" width="4" height="28" fill="#ff0000" stroke="#000" stroke-width="1"/>
<rect x="821" y="330" width="1" height="24" fill="#000"/>
<rect x="819.5" y="347.5" width="4" height="6" fill="#808080" stroke="#000" stroke-width="1"/>
<rect x="829" y="322" width="1" height="26" fill="#000"/>
<rect x="827.5" y="323.5" width="4" height="19" fill="#808080" stroke="#000" stroke-width="1"/>
<rect x="837" y="321" width="1" height="16" fill="#000"/>
<rect x="835.5" y="322.5" width="4" height="6" fill="#ff0000" stroke="#000" stroke-width="1"/>
<rect x="845" y="307" width="1" height="36" fill="#000"/>
<rect x="843.5" y="323.5" width="4" height="10" fill="#ff0000" stroke="#000" stroke-width="1"/>
<rect x="853" y="319" width="1" height="26" fill="#000080"/>
<rect x="851" y="330" width="5" height="1" fill="#000080"/>
<rect x="861" y="323" width="1" height="39" fill="#000"/>
<rect x="859.5" y="323.5" width="4" height="23" fill="#ff0000" stroke="#000" stroke-width="1"/>
<rect x="869" y="337" width="1" height="20" fill="#000"/>
<rect x="867.5" y="344.5" width="4" height="8" fill="#ff0000" stroke="#000" stroke-width="1"/>
<rect x="877" y="339" width="1" height="28" fill="#000"/>
<rect x="875.5" y="346.5" width="4" height="20" fill="#ff0000" stroke="#000" stroke-width="1"/>
<rect x="885" y="366" width="1" height="32" fill="#000"/>
<rect x="883.5" y="366.5" width="4" height="2" fill="#808080" stroke="#000" stroke-width="1"/>
<rect x="893" y="362" width="1" height="21" fill="#000"/>
<rect x="891.5" y="366.5" width="4" height="4" fill="#808080" stroke="#000" stroke-width="1"/>
<rect x="901" y="335" width="1" height="50" fill="#000"/>
<rect x="899.5" y="367.5" width="4" height="17" fill="#ff0000" stroke="#000" stroke-width="1"/>
<rect x="909" y="289" width="1" height="91" fill="#000"/>
<rect x="907.5" y="289.5" width="4" height="87" fill="#808080" stroke="#000" stroke-width="1"/>
<rect x="917" y="275" width="1" height="24" fill="#000"/>
<rect x="915.5" y="287.5" width="4" height="11" fill="#ff0000" stroke="#000" stroke-width="1"/>
<rect x="925" y="289" width="1" height="45" fill="#000"/>
<rect x="923.5" y="296.5" width="4" height="37" fill="#ff0000" stroke="#000" stroke-width="1"/>
<rect x="933" y="296" width="1" height="39" fill="#000"/>
<rect x="931.5" y="296.5" width="4" height="35" fill="#808080" stroke="#000" stroke-width="1"/>
<rect x="941" y="261" width="1" height="45" fill="#000"/>
<rect x="939.5" y="262.5" width="4" height="37" fill="#808080" stroke="#000" stroke-width="1"/>
<rect x="949" y="216" width="1" height="47" fill="#000"/>
<rect x="947.5" y="223.5" width="4" height="32" fill="#808080" stroke="#000" stroke-width="1"/>
<rect x="957" y="197" width="1" height="25" fill="#000"/>
<rect x="955.5" y="219.5" width="4" height="2" fill="#808080" stroke="#000" stroke-width="1"/>
<rect x="965" y="177" width="1" height="54" fill="#000"/>
<rect x="963.5" y="200.5" width="4" height="20" fill="#808080" stroke="#000" stroke-width="1"/>
<rect x="973" y="181" width="1" height="39" fill="#000"/>
<rect x="971.5" y="186.5" width="4" height="11" fill="#808080" stroke="#000" stroke-width="1"/>
<rect x="981" y="142" width="1" height="54" fill="#000"/>
<rect x="979.5" y="142.5" width="4" height="40" fill="#808080" stroke="#000" stroke-width="1"/>
<rect x="989" y="89" width="1" height="49" fill="#000"/>
<rect x="987.5" y="97.5" width="4" height="40" fill="#808080" stroke="#000" stroke-width="1"/>
<rect x="997" y="104" width="1" height="75" fill="#000"/>
<rect x="995.5" y="104.5" width="4" height="54" fill="#ff0000" stroke="#000" stroke-width="1"/>
<rect x="1005" y="115" width="1" height="39" fill="#000"/>
<rect x="1003.5" y="129.5" width="4" height="23" fill="#808080" stroke="#000" stroke-width="1"/>
<rect x="1013" y="78" width="1" height="50" fill="#000"/>
<rect x="1011.5" y="106.5" width="4" height="21" fill="#808080" stroke="#000" stroke-width="1"/>
<rect x="1021" y="81" width="1" height="29" fill="#000080"/>
<rect x="1019" y="101" width="5" height="1" fill="#000080"/>
<rect x="1029" y="75" width="1" height="35" fill="#000"/>
<rect x="1027.5" y="85.5" width="4" height="8" fill="#808080" stroke="#000" stroke-width="1"/>
<rect x="1037" y="74" width="1" height="35" fill="#000"/>
<rect x="1035.5" y="92.5" width="4" height="12" fill="#ff0000" stroke="#000" stroke-width="1"/>
<rect x="1045" y="81" width="1" height="26" fill="#000"/>
<rect x="1043.5" y="97.5" width="4" height="9" fill="#808080" stroke="#000" stroke-width="1"/>
<rect x="1053" y="101" width="1" height="39" fill="#000"/>
<rect x="1051.5" y="101.5" width="4" height="21" fill="#ff0000" stroke="#000" stroke-width="1"/>
<rect x="1061" y="117" width="1" height="24" fill="#000"/>
<rect x="1059.5" y="120.5" width="4" height="12" fill="#ff0000" stroke="#000" stroke-width="1"/>
<rect x="1069" y="132" width="1" height="32" fill="#000"/>
<rect x="1067.5" y="133.5" width="4" height="29" fill="#ff0000" stroke="#000" stroke-width="1"/>
<rect x="1077" y="158" width="1" height="31" fill="#000"/>
<rect x="1075.5" y="158.5" width="4" height="18" fill="#ff0000" stroke="#000" stroke-width="1"/>
<rect x="1085" y="178" width="1" height="18" fill="#000"/>
<rect x="1083.5" y="179.5" width="4" height="16" fill="#ff0000" stroke="#000" stroke-width="1"/>
<rect x="1093" y="209" width="1" height="79" fill="#000"/>
<rect x="1091.5" y="209.5" width="4" height="41" fill="#ff0000" stroke="#000" stroke-width="1"/>
<rect x="1101" y="234" width="1" height="31" fill="#000"/>
<rect x="1099.5" y="240.5" width="4" height="19" fill="#808080" stroke="#000" stroke-width="1"/>
<rect x="1109" y="223" width="1" height="37" fill="#000080"/>
<rect x="1107" y="236" width="5" height="1" fill="#000080"/>
<rect x="1117" y="229" width="1" height="25" fill="#000"/>
<rect x="1115.5" y="229.5" width="4" height="12" fill="#808080" stroke="#000" stroke-width="1"/>
<rect x="1125" y="195" width="1" height="50" fill="#000"/>
<rect x="1123.5" y="195.5" width="4" height="34" fill="#808080" stroke="#000" stroke-width="1"/>
<rect x="1133" y="168" width="1" height="33" fill="#000"/>
<rect x="1131.5" y="172.5" width="4" height="26" fill="#808080" stroke="#000" stroke-width="1"/>
<rect x="1141" y="168" width="1" height="61" fill="#000"/>
<rect x="1139.5" y="170.5" width="4" height="55" fill="#ff0000" stroke="#000" stroke-width="1"/>
<rect x="1149" y="191" width="1" height="36" fill="#000"/>
<rect x="1147.5" y="197.5" width="4" height="28" fill="#808080" stroke="#000" stroke-width="1"/>
<rect x="1157" y="163" width="1" height="48" fill="#000"/>
<rect x="1155.5" y="191.5" width="4" height="9" fill="#808080" stroke="#000" stroke-width="1"/>
<rect x="1165" y="181" width="1" height="25" fill="#000080"/>
<rect x="1163" y="186" width="5" height="1" fill="#000080"/>
<rect x="1173" y="176" width="1" height="32" fill="#000"/>
<rect x="1171.5" y="185.5" width="4" height="9" fill="#ff0000" stroke="#000" stroke-width="1"/>
<rect x="1181" y="188" width="1" height="16" fill="#000"/>
<rect x="1179.5" y="188.5" width="4" height="5" fill="#808080" stroke="#000" stroke-width="1"/>
<rect x="1189" y="184" width="1" height="24" fill="#000"/>
<rect x="1187.5" y="191.5" width="4" height="4" fill="#ff0000" stroke="#000" stroke-width="1"/>
<rect x="1197" y="181" width="1" height="17" fill="#000"/>
<rect x="1195.5" y="193.5" width="4" height="4" fill="#ff0000" stroke="#000" stroke-width="1"/>
<text x="69.6" y="407.5" font-family='"Liberation Sans", sans-serif' font-size="8.8" font-weight="bold" font-style="italic" fill="#787878" stroke="#787878" stroke-width="0.4" textLength="11.7" lengthAdjust="spacingAndGlyphs">LL</text>
<text x="228.6" y="284.6" font-family='"Liberation Sans", sans-serif' font-size="8.8" font-weight="bold" font-style="italic" fill="#00ee00" stroke="#00ee00" stroke-width="0.4" textLength="12.6" lengthAdjust="spacingAndGlyphs">LH</text>
<text x="252.9" y="353.3" font-family='"Liberation Sans", sans-serif' font-size="8.8" font-weight="bold" font-style="italic" fill="#ff0000" stroke="#ff0000" stroke-width="0.4" textLength="12" lengthAdjust="spacingAndGlyphs">HL</text>
<text x="276.6" y="298.3" font-family='"Liberation Sans", sans-serif' font-size="8.8" font-weight="bold" font-style="italic" fill="#00ee00" stroke="#00ee00" stroke-width="0.4" textLength="12.6" lengthAdjust="spacingAndGlyphs">LH</text>
<text x="435.6" y="369.4" font-family='"Liberation Sans", sans-serif' font-size="8.8" font-weight="bold" font-style="italic" fill="#00ee00" stroke="#00ee00" stroke-width="0.4" textLength="12.6" lengthAdjust="spacingAndGlyphs">LH</text>
<text x="476.6" y="371.1" font-family='"Liberation Sans", sans-serif' font-size="8.8" font-weight="bold" font-style="italic" fill="#00ee00" stroke="#00ee00" stroke-width="0.4" textLength="12.6" lengthAdjust="spacingAndGlyphs">LH</text>
<text x="421.0" y="457.5" font-family='"Liberation Sans", sans-serif' font-size="8.8" font-weight="bold" font-style="italic" fill="#787878" stroke="#787878" stroke-width="0.4" textLength="11.7" lengthAdjust="spacingAndGlyphs">LL</text>
<text x="461.0" y="478.8" font-family='"Liberation Sans", sans-serif' font-size="8.8" font-weight="bold" font-style="italic" fill="#787878" stroke="#787878" stroke-width="0.4" textLength="11.7" lengthAdjust="spacingAndGlyphs">LL</text>
<text x="573.0" y="503.6" font-family='"Liberation Sans", sans-serif' font-size="8.8" font-weight="bold" font-style="italic" fill="#787878" stroke="#787878" stroke-width="0.4" textLength="11.7" lengthAdjust="spacingAndGlyphs">LL</text>
<text x="612.1" y="390.6" font-family='"Liberation Sans", sans-serif' font-size="8.8" font-weight="bold" font-style="italic" fill="#00ee00" stroke="#00ee00" stroke-width="0.4" textLength="12.6" lengthAdjust="spacingAndGlyphs">LH</text>
<text x="653.0" y="503.5" font-family='"Liberation Sans", sans-serif' font-size="8.8" font-weight="bold" font-style="italic" fill="#787878" stroke="#787878" stroke-width="0.4" textLength="11.7" lengthAdjust="spacingAndGlyphs">LL</text>
<text x="770.9" y="343.8" font-family='"Liberation Sans", sans-serif' font-size="8.8" font-weight="bold" font-style="italic" fill="#787878" stroke="#787878" stroke-width="0.4" textLength="16" lengthAdjust="spacingAndGlyphs">HH</text>
<text x="788.9" y="417.1" font-family='"Liberation Sans", sans-serif' font-size="8.8" font-weight="bold" font-style="italic" fill="#ff0000" stroke="#ff0000" stroke-width="0.4" textLength="12" lengthAdjust="spacingAndGlyphs">HL</text>
<text x="834.9" y="301.5" font-family='"Liberation Sans", sans-serif' font-size="8.8" font-weight="bold" font-style="italic" fill="#787878" stroke="#787878" stroke-width="0.4" textLength="16" lengthAdjust="spacingAndGlyphs">HH</text>
<text x="874.9" y="406.5" font-family='"Liberation Sans", sans-serif' font-size="8.8" font-weight="bold" font-style="italic" fill="#ff0000" stroke="#ff0000" stroke-width="0.4" textLength="12" lengthAdjust="spacingAndGlyphs">HL</text>
<text x="1018.9" y="68.8" font-family='"Liberation Sans", sans-serif' font-size="8.8" font-weight="bold" font-style="italic" fill="#787878" stroke="#787878" stroke-width="0.4" textLength="16" lengthAdjust="spacingAndGlyphs">HH</text>
<text x="1085.4" y="295.4" font-family='"Liberation Sans", sans-serif' font-size="8.8" font-weight="bold" font-style="italic" fill="#ff0000" stroke="#ff0000" stroke-width="0.4" textLength="12" lengthAdjust="spacingAndGlyphs">HL</text>
<text x="1147.6" y="156.2" font-family='"Liberation Sans", sans-serif' font-size="8.8" font-weight="bold" font-style="italic" fill="#00ee00" stroke="#00ee00" stroke-width="0.4" textLength="12.6" lengthAdjust="spacingAndGlyphs">LH</text>
<rect x="1209" y="209" width="8" height="1" fill="#202070"/>
<text x="1224.5" y="213" font-family='"Liberation Sans", sans-serif' font-size="11.5" fill="#404088" textLength="30" lengthAdjust="spacingAndGlyphs">00:01</text>
<path d="M1226.0,138.5 C1222.5,137.7 1212.7,134.5 1205.0,133.7 C1197.3,132.9 1189.5,133.6 1180.0,133.7 C1170.5,133.8 1155.5,133.2 1148.0,134.3 C1140.5,135.5 1141.3,136.9 1135.0,140.6 C1128.7,144.3 1119.0,150.9 1110.0,156.5 C1101.0,162.1 1088.5,169.5 1081.0,174.0 C1073.5,178.5 1069.7,179.8 1065.0,183.5 C1060.3,187.2 1055.6,191.2 1053.0,196.0 C1050.4,200.8 1049.7,208.0 1049.5,212.0 C1049.3,216.0 1050.9,216.5 1052.0,220.0 C1053.1,223.5 1054.0,228.3 1056.0,233.0 C1058.0,237.7 1059.9,242.3 1064.0,248.0 C1068.1,253.7 1073.9,261.1 1080.5,267.0 C1087.1,272.9 1095.4,278.7 1103.5,283.5 C1111.6,288.3 1119.5,292.6 1129.0,296.0 C1138.5,299.4 1152.1,302.4 1160.6,304.0 C1169.1,305.6 1175.1,305.5 1180.0,305.8 C1184.9,306.1 1185.8,306.6 1190.0,305.8 C1194.2,305.0 1199.0,303.1 1205.0,301.0 C1211.0,298.9 1221.3,295.9 1226.0,293.4 C1230.7,290.9 1230.6,289.6 1233.4,285.8 C1236.2,282.0 1240.5,275.4 1243.0,270.6 C1245.5,265.8 1247.3,263.1 1248.6,257.0 C1249.9,250.9 1250.8,241.6 1250.6,234.0 C1250.4,226.4 1249.0,217.1 1247.7,211.4 C1246.4,205.7 1245.1,204.4 1243.0,200.0 C1240.9,195.6 1237.9,190.6 1235.0,184.7 C1232.1,178.8 1229.8,171.8 1225.7,164.7 C1221.6,157.6 1214.8,146.4 1210.5,142.0 C1206.2,137.6 1201.8,138.7 1200.0,138.0" fill="none" stroke="#ff0000" stroke-width="4.3" stroke-linecap="round" stroke-linejoin="round"/>
<path d="M1210.5,181.3 C1213.3,181.9 1218.0,182.8 1227.6,184.7 C1237.2,186.6 1255.0,190.1 1268.0,193.0 C1281.0,195.9 1301.3,200.2 1305.6,202.2 C1309.9,204.2 1303.3,204.5 1294.0,205.0 C1284.7,205.5 1261.3,205.1 1250.0,205.0 C1238.7,204.9 1232.3,204.8 1226.0,204.5 C1219.7,204.2 1214.7,203.6 1212.4,203.4" fill="none" stroke="#ff0000" stroke-width="4.3" stroke-linecap="round" stroke-linejoin="round"/>
<polyline points="1210.5,214.3 1211.0,217.0 1208.6,238.0 1205.7,257.0 1203.8,284.0 1204.4,330.0 1204.4,409.0 1207.8,432.2 1207.8,465.6 1203.0,474.0 1200.0,477.8 1193.3,490.0 1193.3,536.0" fill="none" stroke="#ff0000" stroke-width="4.3" stroke-linecap="round" stroke-linejoin="round"/>
<path d="M1211.5,215.3 C1212.6,217.5 1216.1,225.6 1218.0,228.6 C1219.9,231.6 1219.8,228.6 1223.0,233.4 C1226.2,238.2 1233.2,250.7 1237.0,257.2 C1240.8,263.7 1242.9,266.8 1245.8,272.5 C1248.7,278.2 1251.9,283.6 1254.4,291.5 C1256.9,299.4 1259.5,313.0 1261.0,320.0 C1262.5,327.0 1261.8,328.9 1263.3,333.3 C1264.8,337.8 1268.9,344.5 1270.0,346.7" fill="none" stroke="#ff0000" stroke-width="4.3" stroke-linecap="round" stroke-linejoin="round"/>
<path d="M1251.3,353.3 L1287.8,366.7 L1281.1,317.8" fill="none" stroke="#ff0000" stroke-width="4.3" stroke-linecap="round" stroke-linejoin="round"/>
</g>
<path d="M1188.8,32 L1198.2,32 L1193.5,37 Z" fill="#778899"/>
<path d="M16.5,38.5 L23.5,38.5 L20,42.5 Z" fill="#000"/>
<text transform="translate(28.5,43.3) scale(1,1.1)" font-family='"Liberation Sans", sans-serif' font-size="9" fill="#000" >EURUSD,M1</text>
<text transform="translate(89.3,43.3) scale(1,1.1)" font-family='"Liberation Sans", sans-serif' font-size="9" fill="#000" textLength="140" lengthAdjust="spacing">1.06140 1.06145 1.06138 1.06138</text>
<rect x="1328" y="192" width="36" height="11" fill="#000"/>
<text transform="translate(1332,201) scale(1,1.06)" font-family='"Liberation Sans", sans-serif' font-size="9.5" fill="#fff" >1.06138</text>
<g clip-path="url(#cs)">
<rect x="13" y="562" width="1313" height="1" fill="#008080"/>
<polyline points="12.5,550.1 29.4,550.1 37.4,563.1 52.4,569.8 61.1,577.3 69.1,580.5 77.3,571.3 86.0,575.6 93.0,574.3 102.2,566.3 109.7,570.6 117.2,562.6 125.2,559.4 133.4,555.6 140.9,552.4 149.1,550.1 158.3,556.9 165.8,561.4 174.5,561.9 182.0,565.1 190.7,563.8 196.9,561.4 204.4,560.1 213.1,562.3 221.4,556.4 229.3,561.4 237.3,558.9 245.5,557.4 253.0,558.1 260.5,559.4 269.2,556.4 277.9,561.4 285.4,563.6 294.1,562.6 301.6,568.1 309.1,566.3 317.8,571.3 325.3,568.1 332.8,564.3 341.5,569.3 350.0,570.6 357.4,571.3 364.9,573.1 373.6,583.0 381.1,576.3 388.6,573.1 397.3,571.8 405.3,568.3 413.5,574.3 421.0,571.3 429.2,574.3 437.2,563.1 445.2,570.1 453.4,559.4 460.9,566.1 468.4,566.1 475.8,563.1 482.1,561.4 493.3,561.4 502.0,557.4 509.5,558.9 517.0,567.3 524.4,561.9 533.2,559.9 541.9,555.6 549.4,564.3 556.8,568.8 565.6,576.3 580.5,575.6 589.3,568.8 598.0,568.1 605.5,565.6 612.9,563.1 621.7,568.1 629.1,562.3 637.9,559.9 645.3,557.4 652.8,559.4 661.5,564.3 669.0,561.4 677.5,561.4 685.5,566.8 693.7,573.1 702.4,568.8 709.9,563.1 717.4,557.6 724.3,558.6 732.3,552.4 741.0,550.6 749.3,558.9 757.2,554.4 765.2,544.4 773.4,541.4 780.9,545.6 789.6,553.9 797.1,555.6 805.8,548.6 814.1,554.4 821.3,552.4 829.5,545.2 837.5,551.9 845.7,558.1 853.2,557.4 861.4,558.6 869.4,556.4 876.9,560.6 885.6,568.6 893.8,565.1 901.8,568.6 909.3,556.4 916.8,557.6 924.7,561.9 933.0,556.4 941.2,548.1 949.2,539.9 957.1,536.4 965.4,533.2 973.6,530.7 981.6,521.5 989.5,529.0 997.8,538.2 1005.5,527.5 1013.3,530.1 1021.4,534.7 1029.4,538.7 1037.4,542.7 1045.4,544.6 1053.4,552.0 1061.4,560.6 1069.4,573.4 1077.4,565.4 1085.4,574.7 1093.4,587.3 1101.4,586.2 1109.4,588.1 1117.4,584.1 1125.4,580.1 1133.4,571.2 1141.4,578.2 1149.5,568.6 1157.5,565.4 1165.5,561.4 1173.5,552.0 1181.5,553.4 1189.5,554.7 1197.0,557.4" fill="none" stroke="#ff4500" stroke-width="1" shape-rendering="crispEdges"/>
<path d="M1193.1,536 L1193.1,541" fill="none" stroke="#ff0000" stroke-width="4.3" stroke-linecap="round" stroke-linejoin="round"/>
<path d="M1184.7,531.1 L1207.8,545.8 L1216.7,526.7" fill="none" stroke="#ff0000" stroke-width="4.3" stroke-linecap="round" stroke-linejoin="round"/>
<path d="M13,586 L13,591 L18,591 Z" fill="#708090"/>
</g>
<text transform="translate(17.5,529) scale(1,1.1)" font-family='"Liberation Sans", sans-serif' font-size="9" fill="#000" >Momentum(10) 100.0132</text>
<rect x="1328" y="557" width="17" height="11" fill="#008080"/>
<text transform="translate(1329,566) scale(1,1.1)" font-family='"Liberation Sans", sans-serif' font-size="9" fill="#fff" >100</text>
<path d="M1193.1,505 L1193.1,540" fill="none" stroke="#ff0000" stroke-width="4.3" stroke-linecap="round" stroke-linejoin="round"/>
</svg>
</body></html>
